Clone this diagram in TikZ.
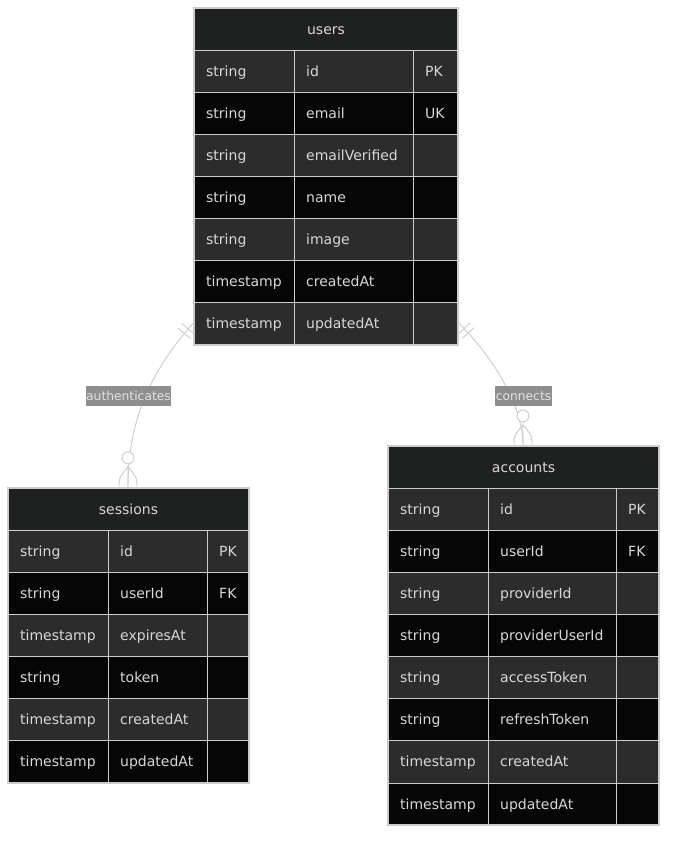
\documentclass[tikz,border=0pt]{standalone}
\usepackage{fontspec}
\setmainfont{DejaVu Sans}
\usetikzlibrary{decorations.markings,calc}
\definecolor{hdr}{HTML}{1F2020}
\definecolor{rowodd}{HTML}{2C2C2C}
\definecolor{roweven}{HTML}{060606}
\definecolor{bordc}{HTML}{CCCCCC}
\definecolor{txtc}{HTML}{D8D8D8}
\definecolor{linec}{HTML}{CCCCCC}
\definecolor{lblbg}{HTML}{8E8E8E}
\definecolor{lbltxt}{HTML}{E2E2E2}
\tikzset{
 celltxt/.style={anchor=base west, inner sep=0pt, text=txtc, font=\fontsize{14}{16}\selectfont},
 titletxt/.style={anchor=base, inner sep=0pt, text=txtc, font=\fontsize{14}{16}\selectfont},
 framebox/.style={draw=bordc, line width=1.3pt, anchor=north west, inner sep=0pt, outer sep=0pt},
 gridline/.style={draw=bordc, line width=0.8pt},
 relline/.style={draw=linec, line width=0.9pt, postaction={decorate}, decoration={markings,
   mark=at position 9pt with {\draw[linec,line width=0.9pt] (0pt,-8pt)--(0pt,8pt);},
   mark=at position 15pt with {\draw[linec,line width=0.9pt] (0pt,-8pt)--(0pt,8pt);},
   mark=at position 0.999 with {\draw[linec,line width=0.9pt,fill=white] (-30pt,0pt) circle (6pt);
      \draw[linec,line width=0.9pt] (-21pt,0pt) .. controls (-10pt,9pt) .. (0pt,9pt)
        (-21pt,0pt) .. controls (-10pt,-9pt) .. (0pt,-9pt) (-24pt,0pt)--(0pt,0pt);}}},
 lbl/.style={fill=lblbg, text=lbltxt, inner xsep=0.5pt, inner ysep=0pt, minimum height=20pt, font=\fontsize{12.3}{14}\selectfont}
}
% #1 name, #2 x0, #3 y0, #4 col2 rel, #5 col3 rel, #6 width, #7 title, #8 rows count, #9 rows
\newcommand{\ertab}[9]{%
  \pgfmathsetmacro\tabH{42.125*(#8+1)}%
  \fill[hdr] (#2,#3) rectangle ++(#6,42.125);
  \foreach [count=\i] \ty/\nm/\ky in {#9} {
    \ifodd\i \def\rc{rowodd}\else\def\rc{roweven}\fi
    \pgfmathsetmacro\yy{#3+42.125*\i}
    \fill[\rc] (#2,\yy) rectangle ++(#6,42.125);
    \draw[gridline] (#2,\yy) -- ++(#6,0);
    \node[celltxt] (#1-\i-t) at (#2+12,\yy+26.06) {\ty};
    \node[celltxt] (#1-\i-n) at (#2+#4+12,\yy+26.06) {\nm};
    \node[celltxt] (#1-\i-k) at (#2+#5+12,\yy+26.06) {\ky};
  }
  \draw[gridline] (#2+#4,#3+42.125) -- (#2+#4,#3+\tabH);
  \draw[gridline] (#2+#5,#3+42.125) -- (#2+#5,#3+\tabH);
  \node[framebox, minimum width=#6pt, minimum height=\tabH pt] (#1) at (#2,#3) {};
  \node[titletxt] (#1-title) at (#2+#6/2,#3+26.06) {#7};
}
\begin{document}
\begin{tikzpicture}[x=1pt,y=-1pt]
\useasboundingbox (0,0) rectangle (675,844);
\fill[white] (0,0) rectangle (675,844);
\ertab{users}{194}{8}{100}{219}{264}{users}{7}{string/id/PK, string/email/UK, string/emailVerified/{}, string/name/{}, string/image/{}, timestamp/createdAt/{}, timestamp/updatedAt/{}}
\ertab{sessions}{8}{488}{100}{199}{241}{sessions}{6}{string/id/PK, string/userId/FK, timestamp/expiresAt/{}, string/token/{}, timestamp/createdAt/{}, timestamp/updatedAt/{}}
\ertab{accounts}{388}{446}{100}{228}{271}{accounts}{8}{string/id/PK, string/userId/FK, string/providerId/{}, string/providerUserId/{}, string/accessToken/{}, string/refreshToken/{}, timestamp/createdAt/{}, timestamp/updatedAt/{}}
\draw[relline] ([yshift=23pt]users.south west) .. controls +(-44,50) and +(0,-68) .. ([xshift=120pt]sessions.north west);
\draw[relline] ([yshift=23pt]users.south east) .. controls +(42,43) and +(0,-36) .. ([xshift=135pt]accounts.north west);
\node[lbl] (lab-auth) at (128.5,396) {authenticates};
\node[lbl] (lab-conn) at (523.5,396) {connects};
\end{tikzpicture}
\end{document}
